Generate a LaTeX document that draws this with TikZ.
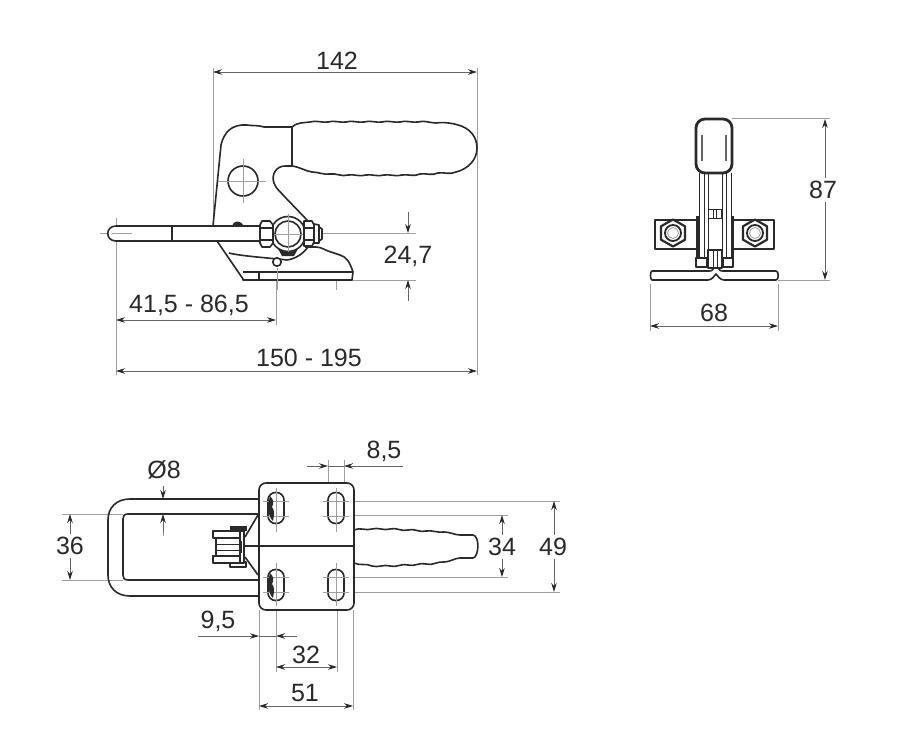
\documentclass[tikz,border=0pt]{standalone}
\usepackage{fontspec}
\setmainfont{Liberation Sans}
\usetikzlibrary{arrows.meta}
\definecolor{ink}{HTML}{2A2A2A}
\definecolor{dimc}{HTML}{666666}
\definecolor{extc}{HTML}{A0A0A0}
\tikzset{
  part/.style={draw=ink,line width=1.6pt,line join=round,fill=white},
  edge/.style={draw=ink,line width=1.6pt,line join=round},
  thin part/.style={draw=ink,line width=1pt},
  ext/.style={draw=extc,line width=1pt},
  ctr/.style={draw=extc,line width=.8pt},
  dimen/.style={draw=dimc,line width=.9pt,{Stealth[length=9pt,width=5.5pt,color=ink]}-{Stealth[length=9pt,width=5.5pt,color=ink]}},
  tipend/.style={draw=dimc,line width=.9pt,-{Stealth[length=9pt,width=5.5pt,color=ink]}},
  lab/.style={font=\fontsize{25}{25}\selectfont,text=ink,inner sep=0pt,anchor=center},
  gaplab/.style={lab,fill=white,inner xsep=1pt,inner ysep=3pt},
  blob/.style={fill=ink,draw=none}
}
\begin{document}
\begin{tikzpicture}[x=1pt,y=-1pt]
\useasboundingbox (0,0) rectangle (902,746);
\fill[white] (0,0) rectangle (902,746);

% ---------- extension lines, side view
\draw[ext] (213,68) -- (213,226);
\draw[ext] (477,68) -- (477,375);
\draw[ext] (116,218) -- (116,375);
\draw[ext] (276,258) -- (276,325);
\draw[ext] (322,233) -- (416,233);
\draw[ext] (352,280) -- (416,280);
\draw[ctr] (336,262) -- (336,290);

% ---------- side view: handle
\draw[part] (292,127) .. controls (298,122) and (303,123) .. (310,122)
 .. controls (316,120) and (322,123) .. (328,122)
 .. controls (334,120) and (340,123) .. (346,122)
 .. controls (352,120) and (358,123) .. (364,122)
 .. controls (370,120) and (376,123) .. (382,122)
 .. controls (388,120) and (394,123) .. (400,122)
 .. controls (406,120) and (412,123) .. (418,122)
 .. controls (424,120) and (430,123) .. (436,123)
 .. controls (444,122) and (452,123) .. (458,125)
 .. controls (470,128) and (477,137) .. (477,148)
 .. controls (477,160) and (468,169) .. (456,172)
 .. controls (450,175) and (444,172) .. (438,173)
 .. controls (432,176) and (426,173) .. (420,174)
 .. controls (414,177) and (408,174) .. (402,175)
 .. controls (396,177) and (390,174) .. (384,175)
 .. controls (378,177) and (372,174) .. (366,175)
 .. controls (360,177) and (354,174) .. (348,175)
 .. controls (342,177) and (336,173) .. (330,174)
 .. controls (324,175) and (318,172) .. (312,172)
 .. controls (305,171) and (300,167) .. (292,166) -- cycle;

% ---------- side view: body
\draw[edge] (292,127) -- (264,127) .. controls (258,125) and (252,126) .. (247,125)
 .. controls (232,124) and (224,132) .. (221,145) -- (213,226);
\draw[edge] (292,166) -- (285,166) .. controls (276,166) and (271,175) .. (274,183)
 .. controls (276,189) and (280,191) .. (283,195) -- (308,221);
\draw[part] (243,181) circle (15);
\draw[ctr] (218,181) -- (266,181) (243,159) -- (243,203);

% lower base
\draw[edge,fill=white] (217,241) -- (243,279) -- (243,280) -- (352,280) -- (353,272)
 .. controls (350,263) and (347,257) .. (340,255) -- (331,252)
 .. controls (326,251) and (322,247) .. (316,247) -- (305,247);
\draw[edge] (229,253) .. controls (240,256) and (270,258) .. (287,260) .. controls (295,259) and (303,254) .. (308,247);
\draw[edge] (243,272) -- (353,272);
\draw[edge] (259,272) -- (259,280);
\draw[part] (277,262) circle (4.2);
\draw[ctr] (277,268) -- (277,290);
\fill[blob] (232,226) .. controls (233,220) and (241,220) .. (244,226) -- cycle;

% ---------- rod
\draw[ctr] (100,233) -- (112,233);
\draw[part] (260,226) -- (116,226) .. controls (105,226) and (105,241) .. (116,241) -- (260,241) -- cycle;
\draw[edge] (172,226) -- (172,241);
\draw[ctr] (112,233) -- (132,233);

% clevis and nuts
\draw[part] (288,234) circle (17.5);
\fill[blob] (277,247) .. controls (283,254) and (293,254) .. (299,247) -- (294,256) -- (282,256) -- cycle;
\draw[part] (288,234) circle (13);
\draw[ctr] (272,234) -- (304,234) (288,214) -- (288,252);
\draw[part] (262,221) -- (270,221) -- (273,225) -- (273,243) -- (270,247) -- (262,247) -- (260,243) -- (260,225) -- cycle;
\draw[edge] (260,228) -- (273,228) (260,240) -- (273,240);
\draw[part] (304,221) -- (312,221) -- (314,225) -- (314,242) -- (312,246) -- (304,246) -- cycle;
\draw[edge] (304,228) -- (314,228) (304,240) -- (314,240);
\draw[part] (314,224) -- (319,225) -- (319,243) -- (314,243) -- cycle;
\draw[part] (319,227) -- (322,229) -- (322,239) -- (319,241) -- cycle;

% ---------- side view dims
\draw[dimen] (213,72) -- (477,72);
\node[lab] (d142) at (337,61) {142};
\draw[dimen] (116,371) -- (477,371);
\node[lab] (d150) at (309,358) {150 - 195};
\draw[dimen] (116,320) -- (276,320);
\node[lab] (d41) at (189,305) {41,5 - 86,5};
\draw[tipend] (408,212) -- (408,233);
\draw[tipend] (408,301) -- (408,280);
\node[lab] (d24) at (408,256) {24,7};

% ---------- front view
\draw[ext] (732,119) -- (830,119);
\draw[ext] (778,280) -- (830,280);
\draw[ext] (650,284) -- (650,331);
\draw[ext] (778,284) -- (778,331);
\draw[dimen] (825,119) -- (825,280);
\node[gaplab] (d87) at (823,190) {87};
\draw[dimen] (650,326) -- (778,326);
\node[lab] (d68) at (714,313) {68};

\draw[part] (655,220) rectangle (697,249);
\draw[part] (732,220) rectangle (774,249);
\foreach \cx in {673,755}{
  \draw[draw=ink,line width=2.2pt,fill=white,line join=round] (\cx,233-13.5) -- (\cx+12,233-6.7) -- (\cx+12,233+6.7) -- (\cx,233+13.5) -- (\cx-12,233+6.7) -- (\cx-12,233-6.7) -- cycle;
  \draw[draw=ink,line width=1.8pt] (\cx,233) circle (8);
  \draw[ctr] (\cx,233) circle (5.5);
}
% arms
\fill[white] (698,173) rectangle (732,262);
\draw[thin part] (699,173) -- (699,258) (704,173) -- (704,258) (708,173) -- (708,252) (722,173) -- (722,252) (726,173) -- (726,258) (731,173) -- (731,258);
\draw[thin part] (708,210) rectangle (721,219);
\draw[thin part] (713,210) -- (713,219) (716,210) -- (716,219);
\draw[line width=3pt,draw=ink] (697,216) -- (697,258) (732,216) -- (732,258);
% lower details
\draw[part,line width=1.3pt] (696,258) rectangle (707,267);
\draw[part,line width=1.3pt] (723,258) rectangle (733,267);
\draw[part,line width=1.3pt] (708,250) rectangle (722,268);
\draw[thin part] (713,250) -- (713,268) (717,250) -- (717,268);
% base
\draw[part] (707,271) -- (652,271) .. controls (650,271) and (650,280) .. (652,280) -- (708,280) .. controls (712,280) and (714,276) .. (716,274) .. controls (718,276) and (720,280) .. (724,280) -- (776,280) .. controls (779,280) and (779,271) .. (776,271) -- (725,271);
\draw[edge] (707,271) .. controls (711,271) and (713,271) .. (714,268);
\draw[edge] (725,271) .. controls (721,271) and (719,271) .. (718,268);
% handle end
\draw[draw=ink,line width=2.8pt,fill=white,rounded corners=9pt] (696,119) rectangle (732,173);
\draw[draw=dimc,line width=2pt] (702,135) -- (702,161) (726,135) -- (726,161);

% ---------- top view extensions
\draw[ext] (354,501) -- (560,501);
\draw[ext] (354,592) -- (560,592);
\draw[ext] (354,515) -- (508,515);
\draw[ext] (354,577) -- (508,577);
\draw[ext] (62,514) -- (123,514);
\draw[ext] (62,580) -- (123,580);
\draw[ext] (328,460) -- (328,483);
\draw[ext] (344,460) -- (344,483);
\draw[ext] (259,610) -- (259,710);
\draw[ext] (353,610) -- (353,710);
\draw[ext] (276,610) -- (276,672);
\draw[ext] (337,610) -- (337,672);
\draw[ctr] (163,520) -- (163,536);

% top view: handle
\draw[part] (354,530) .. controls (360,527) and (366,531) .. (372,529)
 .. controls (378,527) and (384,531) .. (390,529)
 .. controls (396,527) and (402,532) .. (408,530)
 .. controls (414,528) and (420,533) .. (426,531)
 .. controls (432,530) and (438,533) .. (444,532)
 .. controls (450,532) and (455,535) .. (460,535) -- (473,535)
 .. controls (480,536) and (479,557) .. (473,558) -- (460,558)
 .. controls (455,558) and (450,562) .. (444,562)
 .. controls (438,561) and (432,566) .. (426,564)
 .. controls (420,562) and (414,567) .. (408,565)
 .. controls (402,563) and (396,568) .. (390,566)
 .. controls (384,564) and (378,568) .. (372,566)
 .. controls (366,563) and (360,566) .. (354,563) -- cycle;

% top view: U rod
\draw[edge] (259,499) -- (130,499) .. controls (116,499) and (108,508) .. (108,520) -- (108,575) .. controls (108,587) and (116,596) .. (130,596) -- (259,596);
\draw[edge] (259,514) -- (128,514) .. controls (124,514) and (123,516) .. (123,519) -- (123,575) .. controls (123,578) and (124,580) .. (128,580) -- (259,580);

% top view: plate
\draw[part,rounded corners=7pt] (259,483) rectangle (354,610);
\draw[edge] (241,546) -- (353,546);
\draw[edge] (258,515) -- (245,537);
\draw[edge] (258,575) -- (245,557);
\foreach \cx/\cy in {276/508,336/508,276/585,336/585}{
  \draw[edge,rounded corners=7.5pt] (\cx-8,\cy-15.5) rectangle (\cx+8,\cy+15.5);
}
\foreach \cx in {276,336}{
  \draw[ctr] (\cx-13,501) -- (\cx+13,501) (\cx-13,516) -- (\cx+13,516);
  \draw[ctr] (\cx-13,577) -- (\cx+13,577) (\cx-13,592) -- (\cx+13,592);
  \draw[ctr] (\cx,488) -- (\cx,532) (\cx,563) -- (\cx,606);
}
\fill[blob] (270,496) .. controls (274,500) and (274,503) .. (272,507) .. controls (275,510) and (274,516) .. (273,521) .. controls (270,519) and (268,512) .. (268,505) -- cycle;
\fill[blob] (270,573) .. controls (274,577) and (274,580) .. (272,584) .. controls (275,587) and (274,593) .. (273,598) .. controls (270,596) and (268,589) .. (268,582) -- cycle;

% top view: roller
\fill[blob] (230,526) rectangle (247,531);
\draw[part,line width=1.3pt] (230,562) rectangle (246,567);
\draw[part,line width=1.3pt] (230,531) rectangle (244,563);
\draw[part] (213,531) rectangle (240,538);
\draw[part] (213,556) rectangle (240,563);
\draw[part,line width=1.3pt] (216,538) rectangle (240,556);
\draw[thin part] (216,544) -- (240,544) (216,550) -- (240,550);
\fill[blob] (238.5,541) rectangle (242,553);

% top view dims
\node[lab] (d8) at (164,470) {Ø8};
\draw[tipend] (163,486) -- (163,499);
\draw[tipend] (163,533) -- (163,514);
\draw[dimen] (70,514) -- (70,580);
\node[gaplab] (d36) at (70,546) {36};
\draw[dimen] (502,515) -- (502,577);
\node[gaplab] (d34) at (502,547) {34};
\draw[dimen] (554,501) -- (554,592);
\node[gaplab] (d49) at (553,547) {49};
\draw[dimc,line width=.9pt] (328,466) -- (344,466);
\draw[tipend] (307,466) -- (328,466);
\draw[tipend] (403,466) -- (344,466);
\node[lab] (d85) at (384,451) {8,5};
\draw[dimc,line width=.9pt] (259,636) -- (276,636);
\draw[tipend] (198,636) -- (259,636);
\draw[tipend] (297,636) -- (276,636);
\node[lab] (d95) at (218,621) {9,5};
\draw[dimen] (276,667) -- (337,667);
\node[lab] (d32) at (306,655) {32};
\draw[dimen] (259,706) -- (353,706);
\node[lab] (d51) at (305,693) {51};
\end{tikzpicture}
\end{document}
